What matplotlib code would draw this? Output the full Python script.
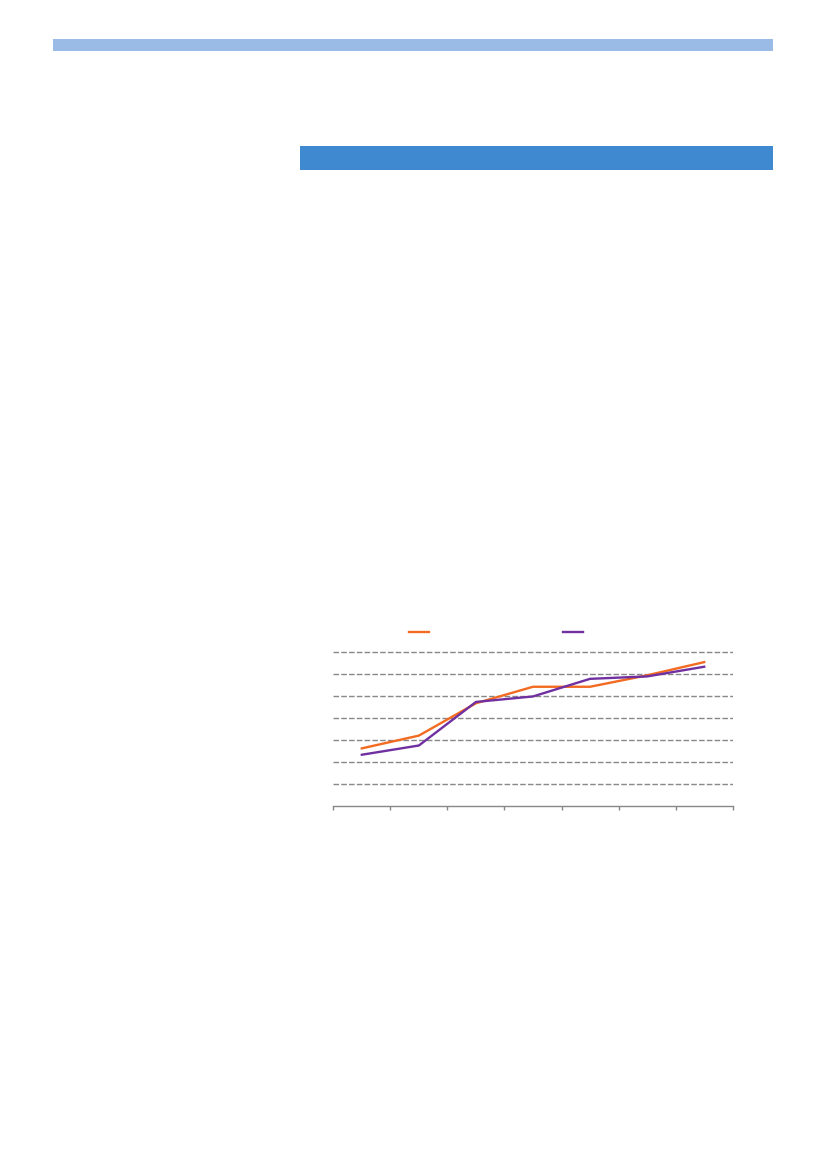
import matplotlib
matplotlib.use("Agg")
import matplotlib.pyplot as plt
from matplotlib.lines import Line2D
from matplotlib.patches import Rectangle
import numpy as np

# ---- data (no labels are visible in the reference) ----
categories = [1, 2, 3, 4, 5, 6, 7]
series_orange = [2.62, 3.20, 4.67, 5.42, 5.42, 5.94, 6.54]
series_purple = [2.33, 2.75, 4.73, 4.98, 5.78, 5.89, 6.33]
y_gridlines = [1, 2, 3, 4, 5, 6, 7]

W, H = 827, 1169
fig = plt.figure(figsize=(W / 100, H / 100), dpi=100)
fig.patch.set_facecolor("white")

def fx(px):
    return px / W

def fy(py):
    return 1 - py / H

# header bars
fig.add_artist(Rectangle((fx(53), fy(50.5)), fx(773) - fx(53), fy(39) - fy(50.5),
                         transform=fig.transFigure, color="#9BBBE7", lw=0))
fig.add_artist(Rectangle((fx(300), fy(169.5)), fx(773) - fx(300), fy(146) - fy(169.5),
                         transform=fig.transFigure, color="#3F89D1", lw=0))

# chart axes
left, right = 333.3, 732.7
bottom = 806.0
unit = 22.0
ymax = 7.25
top = bottom - unit * ymax
ax = fig.add_axes([fx(left), fy(bottom), fx(right) - fx(left), fy(top) - fy(bottom)])
ax.set_xlim(0, len(categories))
ax.set_ylim(0, ymax)
ax.patch.set_alpha(0)

for g in y_gridlines:
    ax.axhline(g, color="#888888", lw=1.0, ls=(0, (4.0, 1.6)), zorder=1)

x = np.arange(len(categories)) + 0.5
orange = "#F26B21"
purple = "#7030A0"
ax.plot(x, series_orange, color=orange, lw=1.7, zorder=3, solid_joinstyle="miter")
ax.plot(x, series_purple, color=purple, lw=1.7, zorder=4, solid_joinstyle="miter")

for s in ["top", "right", "left"]:
    ax.spines[s].set_visible(False)
ax.spines["bottom"].set_color("#888888")
ax.spines["bottom"].set_linewidth(1.0)
ax.set_xticks(np.arange(len(categories) + 1))
ax.set_xticklabels([])
ax.tick_params(axis="x", direction="out", length=3, width=1.0, color="#888888")
ax.set_yticks([])

# legend handles (labels are blank in the reference)
fig.add_artist(Line2D([fx(409), fx(429)], [fy(631.7), fy(631.7)],
                      transform=fig.transFigure, color=orange, lw=1.7))
fig.add_artist(Line2D([fx(563), fx(583)], [fy(631.7), fy(631.7)],
                      transform=fig.transFigure, color=purple, lw=1.7))

fig.savefig("out.png", dpi=100, facecolor="white")
